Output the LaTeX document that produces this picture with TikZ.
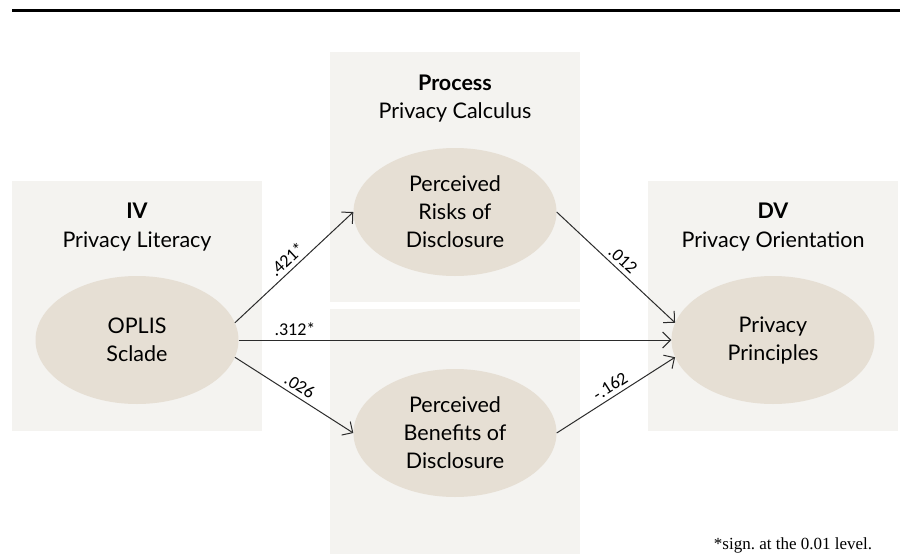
\documentclass[tikz,border=0pt]{standalone}
\usepackage{fontspec}
\setmainfont{Lato}
\newfontfamily\coeffont{Carlito}
\newfontfamily\notefont{Liberation Serif}
\usetikzlibrary{arrows.meta,shapes.geometric,positioning}

\definecolor{panelgray}{HTML}{F4F3F0}
\definecolor{constructbeige}{HTML}{E6DFD4}
\definecolor{effectgray}{HTML}{2B2B2B}

\tikzset{
  panel/.style={rectangle, fill=panelgray, minimum width=250pt, minimum height=250pt, inner sep=0pt},
  construct/.style={ellipse, fill=constructbeige, minimum width=203pt, minimum height=128pt,
    inner sep=0pt, align=center, font=\fontsize{21.5}{28}\selectfont},
  heading/.style={align=center, font=\fontsize{21.5}{28.5}\selectfont},
  effect/.style={->, draw=effectgray, line width=1pt},
  coef/.style={sloped, above, inner sep=4pt, font=\coeffont\fontsize{18}{19}\selectfont}
}

\begin{document}
\begin{tikzpicture}[x=1pt, y=-1pt, >={Straight Barb[length=8pt,width=16pt]}]
  \useasboundingbox (0,0) rectangle (900,554);
  \draw[line width=2.5pt] (12,10.5) -- (900,10.5);

  % columns
  \node[panel] (ivbox) at (137, 306) {};
  \node[panel] (procbox) at (455, 177) {};
  \node[panel, minimum height=245pt] (procbox2) at (455, 431.5) {};
  \node[panel] (dvbox) at (773, 306) {};

  \node[heading] (ivhead) at (137, 227) {\textbf{IV}\\Privacy Literacy};
  \node[heading] (prochead) at (455, 98.5) {\textbf{Process}\\Privacy Calculus};
  \node[heading] (dvhead) at (773, 227) {\textbf{DV}\\Privacy Orientation};

  % constructs
  \node[construct] (oplis) at (137, 340) {OPLIS\\Sclade};
  \node[construct] (risks) at (455, 212) {Perceived\\Risks of\\Disclosure};
  \node[construct] (benefits) at (455, 433) {Perceived\\Benefits of\\Disclosure};
  \node[construct] (principles) at (773, 340) {Privacy\\Principles};

  % paths
  \draw[effect] (oplis.10) -- node[coef] {.421*} (risks.west);
  \draw[effect] (oplis.east) -- node[coef, pos=0.13] {.312*} (principles.west);
  \draw[effect] (oplis.-10) -- node[coef] {.026} (benefits.west);
  \draw[effect] (risks.east) -- node[coef] {.012} (principles.170);
  \draw[effect] (benefits.east) -- node[coef] {-.162} (principles.-170);

  \node[font=\notefont\fontsize{17}{19}\selectfont] (note) at (793, 545) {*sign.\ at the 0.01 level.};
\end{tikzpicture}
\end{document}
